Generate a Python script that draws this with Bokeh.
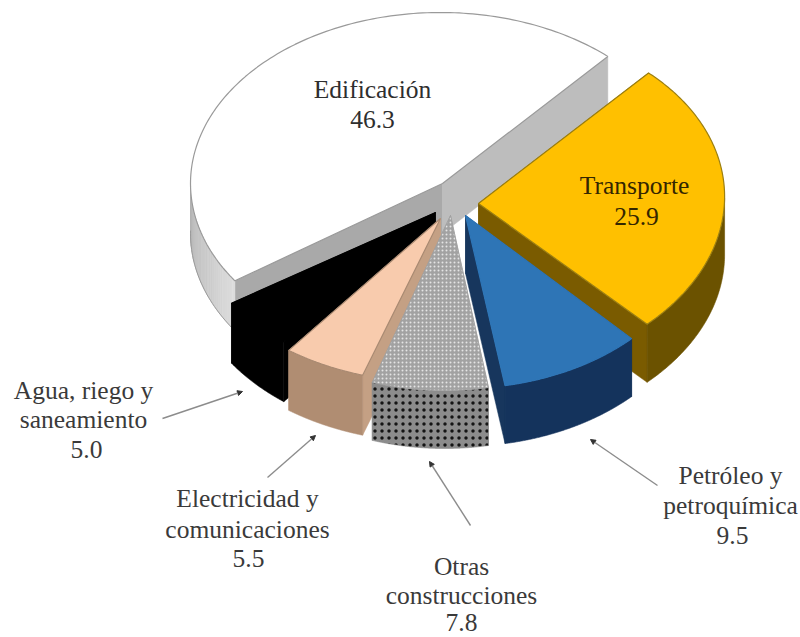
import numpy as np
from bokeh.plotting import figure
from bokeh.models import Range1d, Arrow, NormalHead, ColumnDataSource
from bokeh.core.properties import value
from bokeh.embed import file_html
from bokeh.resources import INLINE

# data, clockwise from the Edificacion / Transporte boundary
categories = ["Transporte", "Petróleo y petroquímica", "Otras construcciones",
              "Electricidad y comunicaciones", "Agua, riego y saneamiento", "Edificación"]
shares = [25.9, 9.5, 7.8, 5.5, 5.0, 46.3]

# layout of the tilted exploded pie, in page pixels
START = 48.0
GEOM = {
    "Transporte": dict(c=(479, 201), r=(245, 173), a=(478, 203), d=58, k=-0.04),
    "Petróleo y petroquímica": dict(c=(460, 216), r=(243, 172), a=(465, 215), d=58, k=0),
    "Otras construcciones": dict(c=(444, 215), r=(240, 175), a=(450, 215), d=58, k=0),
    "Electricidad y comunicaciones": dict(c=(435, 225), r=(242, 157), a=(440, 218), d=60, k=0),
    "Agua, riego y saneamiento": dict(c=(430, 206), r=(242, 170), a=(435, 212), d=60, k=0),
    "Edificación": dict(c=(440, 183), r=(250, 171), a=(442, 183), d=50, k=0),
}
STYLE = {
    "Transporte": dict(top="#FFC000", line="#9c7f10", cut="#7a5b00", wall="#6b5200"),
    "Petróleo y petroquímica": dict(top="#2E75B6", line="#2E75B6", cut="#17365D", wall="#14335C"),
    "Otras construcciones": dict(top="#a2a2a2", line="#a2a2a2", cut="#999999", wall="#8c8c8c"),
    "Electricidad y comunicaciones": dict(top="#F8CBAD", line="#a98a72", cut="#c4a084", wall="#b08d72"),
    "Agua, riego y saneamiento": dict(top="#000000", line="#000000", cut="#000000", wall="#000000"),
    "Edificación": dict(top="#FFFFFF", line="#9a9a9a", cut="#bdbdbd", wall="#cfcfcf"),
}

labels = ["Edificación", "46.3", "Transporte", "25.9", "Agua, riego y", "saneamiento", "5.0",
          "Electricidad y", "comunicaciones", "5.5", "Otras", "construcciones", "7.8",
          "Petróleo y", "petroquímica", "9.5"]
label_x = [372, 372, 634, 636, 83, 83, 86, 247, 247, 248, 461, 461, 461, 730, 730, 732]
label_y = [89, 119, 185, 216, 390, 419, 449, 498, 529, 558, 566, 595, 622, 475, 505, 535]
label_color = ["#2e2e2e"] * 2 + ["#332600"] * 2 + ["#3a3a3a"] * 12

arrows = [(162, 418, 242, 391), (267, 477, 315, 435), (470, 525, 429, 461), (657, 485, 590, 439)]

p = figure(width=800, height=637, output_backend="svg", toolbar_location=None,
           x_range=Range1d(0, 800), y_range=Range1d(637, 0), min_border=0,
           outline_line_color=None, background_fill_color="white")
p.axis.visible = False
p.grid.visible = False


def arc(g, a0, a1, n=160):
    t = np.radians(np.linspace(a0, a1, n))
    ys = g["c"][1] - g["r"][1] * np.sin(t)
    xs = g["c"][0] + g["r"][0] * np.cos(t) + g["k"] * (ys - g["c"][1])
    return xs, ys


def lerp_hex(c0, c1, f):
    a = [int(c0[i:i + 2], 16) for i in (1, 3, 5)]
    b = [int(c1[i:i + 2], 16) for i in (1, 3, 5)]
    return "#%02x%02x%02x" % tuple(round(u + (v - u) * f) for u, v in zip(a, b))


angles = {}
cur = START
for name, s in zip(categories, shares):
    angles[name] = (cur, cur - s * 3.6)
    cur -= s * 3.6
order = ["Edificación", "Transporte", "Agua, riego y saneamiento",
         "Electricidad y comunicaciones", "Otras construcciones", "Petróleo y petroquímica"]

for name in order:
    g, st = GEOM[name], STYLE[name]
    a0, a1 = angles[name]
    d = g["d"]
    x, y = arc(g, a0, a1)
    ax, ay = g["a"]
    hatch = name == "Otras construcciones"
    # cut faces
    for ex, ey, col in ((x[0], y[0], st["cut"]), (x[-1], y[-1], st["cut"])):
        if name == "Edificación" and ex < ax:
            col = "#a9a9a9"
        p.patch([ax, ex, ex, ax], [ay, ey, ey + d, ay + d], fill_color=col, line_color=col, line_width=0.5)
    # outer wall: only the part on the viewer's side
    tt = np.linspace(a0, a1, 160)
    mask = np.sin(np.radians(tt)) <= 0.02
    wx, wy = x[mask], y[mask]
    if name == "Edificación":
        steps = 32
        n = len(wx)
        for k in range(steps):
            i0 = int(k * (n - 1) / steps)
            i1 = int((k + 1) * (n - 1) / steps)
            c = lerp_hex("#dcdcdc", "#b4b4b4", k / (steps - 1))
            sx = wx[i0:i1 + 1]
            sy = wy[i0:i1 + 1]
            p.patch(np.r_[sx, sx[::-1]], np.r_[sy, (sy + d)[::-1]], fill_color=c, line_color=c, line_width=0.6)
        p.line(wx, wy + d, line_color="#9a9a9a", line_width=1)
    elif hatch:
        p.patch(np.r_[wx, wx[::-1]], np.r_[wy, (wy + d)[::-1]], fill_color=st["wall"], line_color="#8a8a8a",
                line_width=0.6, hatch_pattern="dot", hatch_color="#141414", hatch_scale=7, hatch_weight=2.6)
    else:
        p.patch(np.r_[wx, wx[::-1]], np.r_[wy, (wy + d)[::-1]], fill_color=st["wall"],
                line_color=st["wall"], line_width=0.6)
    # top face
    tx, ty = np.r_[ax, x], np.r_[ay, y]
    if hatch:
        p.patch(tx, ty, fill_color=st["top"], line_color=st["line"], line_width=0.8,
                hatch_pattern="dot", hatch_color="#e4e4e4", hatch_scale=4, hatch_weight=1.1)
    else:
        p.patch(tx, ty, fill_color=st["top"], line_color=st["line"], line_width=1.2)

for x0, y0, x1, y1 in arrows:
    p.add_layout(Arrow(end=NormalHead(size=5, fill_color="#333333", line_color="#333333"),
                       x_start=x0, y_start=y0, x_end=x1, y_end=y1,
                       line_color="#8c8c8c", line_width=1.4))

src = ColumnDataSource(dict(x=label_x, y=label_y, t=labels, c=label_color))
p.text("x", "y", text="t", source=src, text_color="c", text_align="center", text_baseline="middle",
       text_font=value("Liberation Serif"), text_font_size="25.5px")

open("out.html", "w").write(file_html(p, INLINE))
